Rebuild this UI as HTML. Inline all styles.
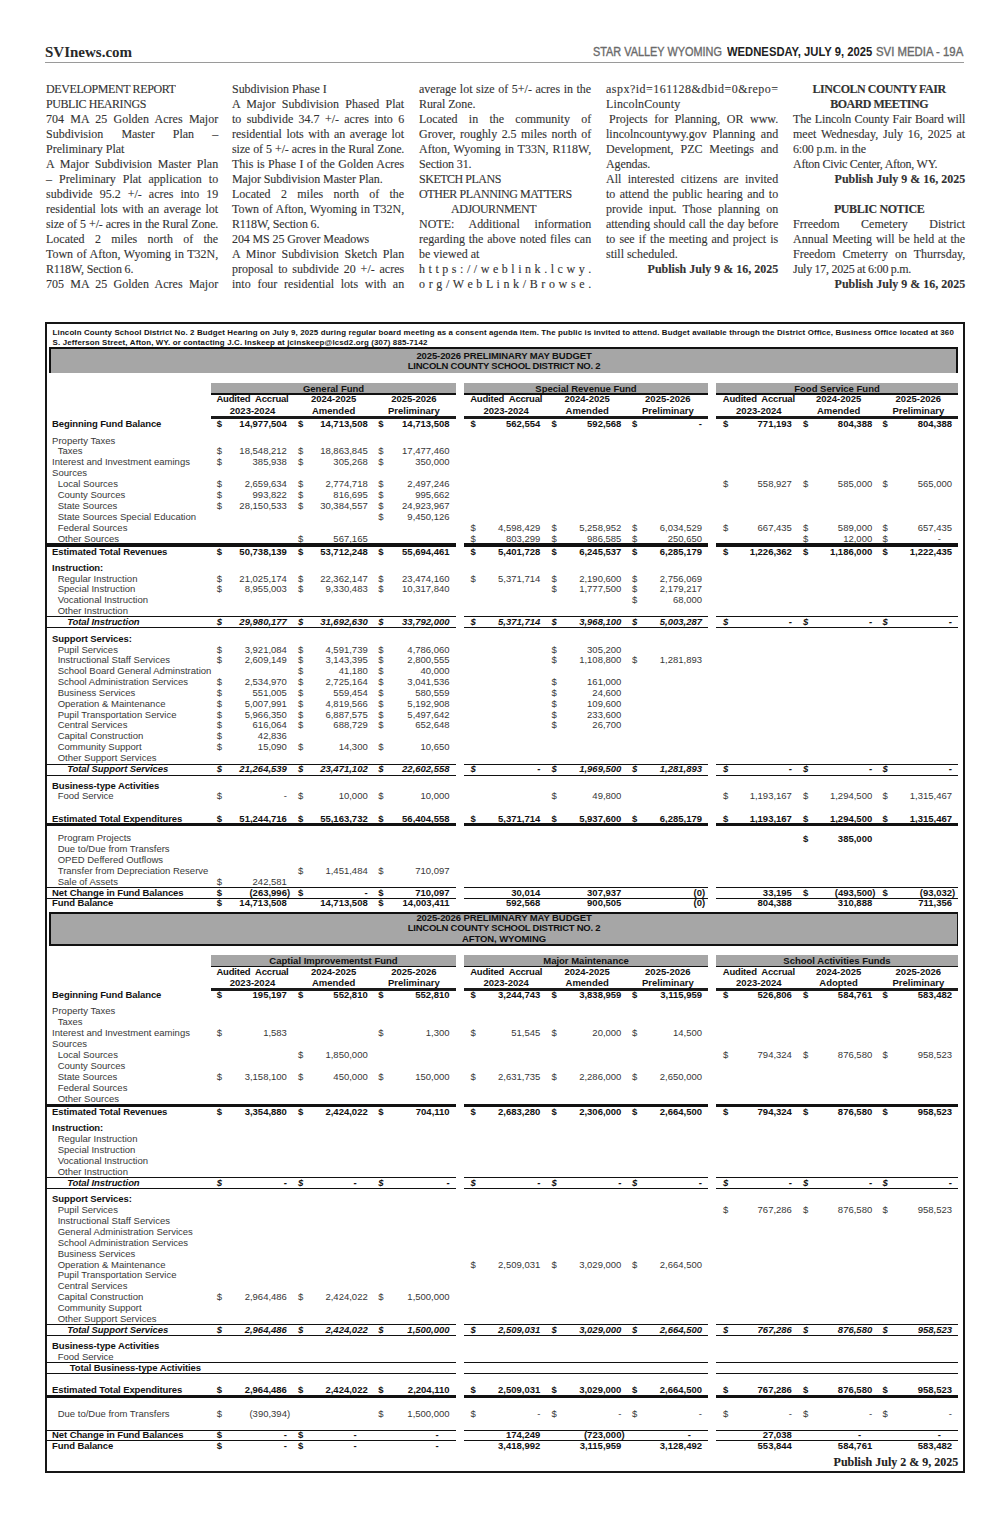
<!DOCTYPE html><html><head><meta charset="utf-8"><style>
*{margin:0;padding:0;box-sizing:border-box}
html,body{width:994px;height:1536px;background:#fff;overflow:hidden;position:relative}
.t{position:absolute;font-family:"Liberation Sans",sans-serif;font-size:9.5px;line-height:10px;white-space:pre;color:#383838}
.t.r{text-align:right}
.t.c{text-align:center}
.bd{font-weight:bold;color:#111}
.lbl.bd,.lbl.bi{letter-spacing:-0.1px}
.bi{font-weight:bold;font-style:italic;color:#111}
.b{position:absolute}
.bt{position:absolute;font-family:"Liberation Serif",serif;font-size:13.2px;line-height:15px;white-space:pre;color:#333;-webkit-text-stroke:0.12px #333;width:189.42px;height:15px;transform:scaleX(0.90909);transform-origin:0 0}
.bj{text-align:justify;text-align-last:justify;white-space:normal}
.bl{text-align:left}
.bc{text-align:center;font-weight:bold}
.br{text-align:right;font-weight:bold}
.bi2{padding-left:35.2px}
.bp{padding-left:3.3px}
.hdr{position:absolute;font-family:"Liberation Sans",sans-serif;font-size:12px;line-height:14px;white-space:pre}

</style></head><body>
<div class="hdr" style="left:45px;top:45px;font-family:'Liberation Serif',serif;font-weight:bold;font-size:15px;color:#2a2a2a">SVInews.com</div>
<div class="hdr" style="left:592.5px;top:45.3px;color:#6a6a6a;-webkit-text-stroke:0.35px #6a6a6a;transform:scaleX(0.9075);transform-origin:0 0">STAR VALLEY WYOMING</div>
<div class="hdr" style="left:726.7px;top:45.3px;color:#1e1e1e;font-weight:bold;transform:scaleX(0.9376);transform-origin:0 0">WEDNESDAY, JULY 9, 2025</div>
<div class="hdr" style="left:875.8px;top:45.3px;color:#6a6a6a;-webkit-text-stroke:0.35px #6a6a6a;transform:scaleX(0.9485);transform-origin:0 0">SVI MEDIA - 19A</div>
<div class="b" style="left:45.0px;top:61.80px;width:919.0px;height:1.00px;background:#9a9a9a"></div>
<div class="bt bl" style="left:45.5px;top:80.55px;letter-spacing:-0.435px">DEVELOPMENT REPORT</div>
<div class="bt bl" style="left:45.5px;top:95.55px;letter-spacing:-0.465px">PUBLIC HEARINGS</div>
<div class="bt bj" style="left:45.5px;top:110.55px">704 MA 25 Golden Acres Major</div>
<div class="bt bj" style="left:45.5px;top:125.55px">Subdivision Master Plan –</div>
<div class="bt bl" style="left:45.5px;top:140.54px;letter-spacing:0.012px">Preliminary Plat</div>
<div class="bt bj" style="left:45.5px;top:155.54px">A Major Subdivision Master Plan</div>
<div class="bt bj" style="left:45.5px;top:170.54px">– Preliminary Plat application to</div>
<div class="bt bj" style="left:45.5px;top:185.54px">subdivide 95.2 +/- acres into 19</div>
<div class="bt bj" style="left:45.5px;top:200.54px">residential lots with an average lot</div>
<div class="bt bj" style="left:45.5px;top:215.54px;letter-spacing:-0.180px">size of 5 +/- acres in the Rural Zone.</div>
<div class="bt bj" style="left:45.5px;top:230.54px">Located 2 miles north of the</div>
<div class="bt bj" style="left:45.5px;top:245.54px;letter-spacing:-0.007px">Town of Afton, Wyoming in T32N,</div>
<div class="bt bl" style="left:45.5px;top:260.55px;letter-spacing:-0.154px">R118W, Section 6.</div>
<div class="bt bj" style="left:45.5px;top:275.55px">705 MA 25 Golden Acres Major</div>
<div class="bt bl" style="left:232.2px;top:80.55px;letter-spacing:-0.025px">Subdivision Phase I</div>
<div class="bt bj" style="left:232.2px;top:95.55px">A Major Subdivision Phased Plat</div>
<div class="bt bj" style="left:232.2px;top:110.55px">to subdivide 34.7 +/- acres into 6</div>
<div class="bt bj" style="left:232.2px;top:125.55px">residential lots with an average lot</div>
<div class="bt bj" style="left:232.2px;top:140.54px;letter-spacing:-0.180px">size of 5 +/- acres in the Rural Zone.</div>
<div class="bt bj" style="left:232.2px;top:155.54px;letter-spacing:-0.005px">This is Phase I of the Golden Acres</div>
<div class="bt bl" style="left:232.2px;top:170.54px;letter-spacing:-0.093px">Major Subdivision Master Plan.</div>
<div class="bt bj" style="left:232.2px;top:185.54px">Located 2 miles north of the</div>
<div class="bt bj" style="left:232.2px;top:200.54px;letter-spacing:-0.007px">Town of Afton, Wyoming in T32N,</div>
<div class="bt bl" style="left:232.2px;top:215.54px;letter-spacing:-0.154px">R118W, Section 6.</div>
<div class="bt bl" style="left:232.2px;top:230.54px;letter-spacing:-0.123px">204 MS 25 Grover Meadows</div>
<div class="bt bj" style="left:232.2px;top:245.54px">A Minor Subdivision Sketch Plan</div>
<div class="bt bj" style="left:232.2px;top:260.55px">proposal to subdivide 20 +/- acres</div>
<div class="bt bj" style="left:232.2px;top:275.55px">into four residential lots with an</div>
<div class="bt bj" style="left:419.0px;top:80.55px">average lot size of 5+/- acres in the</div>
<div class="bt bl" style="left:419.0px;top:95.55px;letter-spacing:-0.092px">Rural Zone.</div>
<div class="bt bj" style="left:419.0px;top:110.55px">Located in the community of</div>
<div class="bt bj" style="left:419.0px;top:125.55px">Grover, roughly 2.5 miles north of</div>
<div class="bt bj" style="left:419.0px;top:140.54px">Afton, Wyoming in T33N, R118W,</div>
<div class="bt bl" style="left:419.0px;top:155.54px;letter-spacing:-0.159px">Section 31.</div>
<div class="bt bl" style="left:419.0px;top:170.54px;letter-spacing:-0.520px">SKETCH PLANS</div>
<div class="bt bl" style="left:419.0px;top:185.54px;letter-spacing:-0.450px">OTHER PLANNING MATTERS</div>
<div class="bt bi2" style="left:419.0px;top:200.54px;letter-spacing:-0.480px">ADJOURNMENT</div>
<div class="bt bj" style="left:419.0px;top:215.54px">NOTE:   Additional information</div>
<div class="bt bj" style="left:419.0px;top:230.54px">regarding the above noted files can</div>
<div class="bt bl" style="left:419.0px;top:245.54px;letter-spacing:-0.022px">be viewed at</div>
<div class="bt bj" style="left:419.0px;top:260.55px">h t t p s : / / w e b l i n k . l c w y .</div>
<div class="bt bj" style="left:419.0px;top:275.55px">o r g / W e b L i n k / B r o w s e .</div>
<div class="bt bl" style="left:605.8px;top:80.55px;letter-spacing:0.523px">aspx?id=161128&amp;dbid=0&amp;repo=</div>
<div class="bt bl" style="left:605.8px;top:95.55px;letter-spacing:0.147px">LincolnCounty</div>
<div class="bt bj bp" style="left:605.8px;top:110.55px">Projects for Planning, OR www.</div>
<div class="bt bj" style="left:605.8px;top:125.55px">lincolncountywy.gov Planning and</div>
<div class="bt bj" style="left:605.8px;top:140.54px">Development, PZC Meetings and</div>
<div class="bt bl" style="left:605.8px;top:155.54px;letter-spacing:-0.095px">Agendas.</div>
<div class="bt bj" style="left:605.8px;top:170.54px">All interested citizens are invited</div>
<div class="bt bj" style="left:605.8px;top:185.54px">to attend the public hearing and to</div>
<div class="bt bj" style="left:605.8px;top:200.54px">provide input.  Those planning on</div>
<div class="bt bj" style="left:605.8px;top:215.54px;letter-spacing:-0.065px">attending should call the day before</div>
<div class="bt bj" style="left:605.8px;top:230.54px">to see if the meeting and project is</div>
<div class="bt bl" style="left:605.8px;top:245.54px;letter-spacing:-0.006px">still scheduled.</div>
<div class="bt br" style="left:605.8px;top:260.55px">Publish July 9 &amp; 16, 2025</div>
<div class="bt bc" style="left:792.8px;top:80.55px;letter-spacing:-0.504px">LINCOLN COUNTY FAIR</div>
<div class="bt bc" style="left:792.8px;top:95.55px;letter-spacing:-0.537px">BOARD MEETING</div>
<div class="bt bj" style="left:792.8px;top:110.55px;letter-spacing:-0.135px">The Lincoln County Fair Board will</div>
<div class="bt bj" style="left:792.8px;top:125.55px">meet Wednesday, July 16, 2025 at</div>
<div class="bt bl" style="left:792.8px;top:140.54px;letter-spacing:-0.190px">6:00 p.m. in the</div>
<div class="bt bl" style="left:792.8px;top:155.54px;letter-spacing:-0.281px">Afton Civic Center, Afton, WY.</div>
<div class="bt br" style="left:792.8px;top:170.54px">Publish July 9 &amp; 16, 2025</div>
<div class="bt bc" style="left:792.8px;top:200.54px;letter-spacing:-0.439px">PUBLIC NOTICE</div>
<div class="bt bj" style="left:792.8px;top:215.54px">Frreedom Cemetery District</div>
<div class="bt bj" style="left:792.8px;top:230.54px">Annual Meeting will be held at the</div>
<div class="bt bj" style="left:792.8px;top:245.54px">Freedom Cmeterry on Thurrsday,</div>
<div class="bt bl" style="left:792.8px;top:260.55px;letter-spacing:-0.302px">July 17, 2025 at 6:00 p.m.</div>
<div class="bt br" style="left:792.8px;top:275.55px">Publish July 9 &amp; 16, 2025</div>
<div class="b" style="left:45.0px;top:322.00px;width:920.0px;height:2.00px;background:#161616"></div>
<div class="b" style="left:45.0px;top:322.00px;width:2.0px;height:1151.00px;background:#161616"></div>
<div class="b" style="left:963.0px;top:322.00px;width:2.0px;height:1151.00px;background:#161616"></div>
<div class="b" style="left:45.0px;top:1471.00px;width:920.0px;height:2.00px;background:#161616"></div>
<div class="t bd" style="left:52.6px;top:328.3px;font-size:7.9px;line-height:10px;letter-spacing:0.145px">Lincoln County School District No. 2 Budget Hearing on July 9, 2025 during regular board meeting as a consent agenda item. The public is invited to attend. Budget available through the District Office, Business Office located at 360</div>
<div class="t bd" style="left:52.6px;top:338.3px;font-size:7.9px;line-height:10px;letter-spacing:0.16px">S. Jefferson Street, Afton, WY. or contacting J.C. Inskeep at jcinskeep@lcsd2.org (307) 885-7142</div>
<div class="b" style="left:49.0px;top:347.00px;width:909.0px;height:26.00px;background:#a6a6a6"></div>
<div class="b" style="left:49.0px;top:347.00px;width:909.0px;height:2.00px;background:#111"></div>
<div class="b" style="left:49.0px;top:347.00px;width:2.0px;height:26.00px;background:#111"></div>
<div class="b" style="left:956.0px;top:347.00px;width:2.0px;height:26.00px;background:#111"></div>
<div class="t c bd" style="left:404.0px;width:200px;top:350.91px;letter-spacing:-0.1px">2025-2026 PRELIMINARY MAY BUDGET</div>
<div class="t c bd" style="left:404.0px;width:200px;top:361.31px;letter-spacing:-0.26px">LINCOLN COUNTY SCHOOL DISTRICT NO. 2</div>
<div class="b" style="left:211.0px;top:383.00px;width:245.0px;height:10.00px;background:#a6a6a6"></div>
<div class="b" style="left:211.0px;top:393.00px;width:245.0px;height:2.00px;background:#111"></div>
<div class="t c bd" style="left:233.5px;width:200px;top:383.51px;">General Fund</div>
<div class="b" style="left:211.0px;top:416.00px;width:245.0px;height:3.00px;background:#1a1a1a"></div>
<div class="b" style="left:464.0px;top:383.00px;width:244.0px;height:10.00px;background:#a6a6a6"></div>
<div class="b" style="left:464.0px;top:393.00px;width:244.0px;height:2.00px;background:#111"></div>
<div class="t c bd" style="left:486.0px;width:200px;top:383.51px;">Special Revenue Fund</div>
<div class="b" style="left:464.0px;top:416.00px;width:244.0px;height:3.00px;background:#1a1a1a"></div>
<div class="b" style="left:716.0px;top:383.00px;width:242.0px;height:10.00px;background:#a6a6a6"></div>
<div class="b" style="left:716.0px;top:393.00px;width:242.0px;height:2.00px;background:#111"></div>
<div class="t c bd" style="left:737.0px;width:200px;top:383.51px;">Food Service Fund</div>
<div class="b" style="left:716.0px;top:416.00px;width:242.0px;height:3.00px;background:#1a1a1a"></div>
<div class="t c bd" style="left:152.5px;width:200px;top:394.31px;letter-spacing:-0.19px">Audited  Accrual</div>
<div class="t c bd" style="left:152.5px;width:200px;top:406.01px;">2023-2024</div>
<div class="t c bd" style="left:233.6px;width:200px;top:394.31px;">2024-2025</div>
<div class="t c bd" style="left:233.6px;width:200px;top:406.01px;">Amended</div>
<div class="t c bd" style="left:313.9px;width:200px;top:394.31px;">2025-2026</div>
<div class="t c bd" style="left:313.9px;width:200px;top:406.01px;">Preliminary</div>
<div class="t c bd" style="left:406.2px;width:200px;top:394.31px;letter-spacing:-0.19px">Audited  Accrual</div>
<div class="t c bd" style="left:406.2px;width:200px;top:406.01px;">2023-2024</div>
<div class="t c bd" style="left:487.2px;width:200px;top:394.31px;">2024-2025</div>
<div class="t c bd" style="left:487.2px;width:200px;top:406.01px;">Amended</div>
<div class="t c bd" style="left:567.8px;width:200px;top:394.31px;">2025-2026</div>
<div class="t c bd" style="left:567.8px;width:200px;top:406.01px;">Preliminary</div>
<div class="t c bd" style="left:658.8px;width:200px;top:394.31px;letter-spacing:-0.19px">Audited  Accrual</div>
<div class="t c bd" style="left:658.8px;width:200px;top:406.01px;">2023-2024</div>
<div class="t c bd" style="left:738.6px;width:200px;top:394.31px;">2024-2025</div>
<div class="t c bd" style="left:738.6px;width:200px;top:406.01px;">Amended</div>
<div class="t c bd" style="left:818.3px;width:200px;top:394.31px;">2025-2026</div>
<div class="t c bd" style="left:818.3px;width:200px;top:406.01px;">Preliminary</div>
<div class="t bd lbl" style="left:52.1px;top:419.21px;">Beginning Fund Balance</div>
<div class="t bd" style="left:216.8px;top:419.21px;">$</div>
<div class="t r bd" style="right:707.1px;top:419.21px;">14,977,504</div>
<div class="t bd" style="left:297.9px;top:419.21px;">$</div>
<div class="t r bd" style="right:626.3px;top:419.21px;">14,713,508</div>
<div class="t bd" style="left:378.2px;top:419.21px;">$</div>
<div class="t r bd" style="right:544.4px;top:419.21px;">14,713,508</div>
<div class="t bd" style="left:470.5px;top:419.21px;">$</div>
<div class="t r bd" style="right:453.7px;top:419.21px;">562,554</div>
<div class="t bd" style="left:551.5px;top:419.21px;">$</div>
<div class="t r bd" style="right:372.6px;top:419.21px;">592,568</div>
<div class="t bd" style="left:632.1px;top:419.21px;">$</div>
<div class="t r bd" style="right:292.0px;top:419.21px;">-</div>
<div class="t bd" style="left:723.1px;top:419.21px;">$</div>
<div class="t r bd" style="right:202.1px;top:419.21px;">771,193</div>
<div class="t bd" style="left:802.9px;top:419.21px;">$</div>
<div class="t r bd" style="right:121.8px;top:419.21px;">804,388</div>
<div class="t bd" style="left:882.6px;top:419.21px;">$</div>
<div class="t r bd" style="right:42.0px;top:419.21px;">804,388</div>
<div class="t  lbl" style="left:52.1px;top:435.51px;">Property Taxes</div>
<div class="t  lbl" style="left:57.7px;top:446.41px;">Taxes</div>
<div class="t " style="left:216.8px;top:446.41px;">$</div>
<div class="t r " style="right:707.1px;top:446.41px;">18,548,212</div>
<div class="t " style="left:297.9px;top:446.41px;">$</div>
<div class="t r " style="right:626.3px;top:446.41px;">18,863,845</div>
<div class="t " style="left:378.2px;top:446.41px;">$</div>
<div class="t r " style="right:544.4px;top:446.41px;">17,477,460</div>
<div class="t  lbl" style="left:52.1px;top:457.21px;">Interest and Investment eamings</div>
<div class="t " style="left:216.8px;top:457.21px;">$</div>
<div class="t r " style="right:707.1px;top:457.21px;">385,938</div>
<div class="t " style="left:297.9px;top:457.21px;">$</div>
<div class="t r " style="right:626.3px;top:457.21px;">305,268</div>
<div class="t " style="left:378.2px;top:457.21px;">$</div>
<div class="t r " style="right:544.4px;top:457.21px;">350,000</div>
<div class="t  lbl" style="left:52.1px;top:468.21px;">Sources</div>
<div class="t  lbl" style="left:57.7px;top:479.11px;">Local Sources</div>
<div class="t " style="left:216.8px;top:479.11px;">$</div>
<div class="t r " style="right:707.1px;top:479.11px;">2,659,634</div>
<div class="t " style="left:297.9px;top:479.11px;">$</div>
<div class="t r " style="right:626.3px;top:479.11px;">2,774,718</div>
<div class="t " style="left:378.2px;top:479.11px;">$</div>
<div class="t r " style="right:544.4px;top:479.11px;">2,497,246</div>
<div class="t " style="left:723.1px;top:479.11px;">$</div>
<div class="t r " style="right:202.1px;top:479.11px;">558,927</div>
<div class="t " style="left:802.9px;top:479.11px;">$</div>
<div class="t r " style="right:121.8px;top:479.11px;">585,000</div>
<div class="t " style="left:882.6px;top:479.11px;">$</div>
<div class="t r " style="right:42.0px;top:479.11px;">565,000</div>
<div class="t  lbl" style="left:57.7px;top:490.01px;">County Sources</div>
<div class="t " style="left:216.8px;top:490.01px;">$</div>
<div class="t r " style="right:707.1px;top:490.01px;">993,822</div>
<div class="t " style="left:297.9px;top:490.01px;">$</div>
<div class="t r " style="right:626.3px;top:490.01px;">816,695</div>
<div class="t " style="left:378.2px;top:490.01px;">$</div>
<div class="t r " style="right:544.4px;top:490.01px;">995,662</div>
<div class="t  lbl" style="left:57.7px;top:500.91px;">State Sources</div>
<div class="t " style="left:216.8px;top:500.91px;">$</div>
<div class="t r " style="right:707.1px;top:500.91px;">28,150,533</div>
<div class="t " style="left:297.9px;top:500.91px;">$</div>
<div class="t r " style="right:626.3px;top:500.91px;">30,384,557</div>
<div class="t " style="left:378.2px;top:500.91px;">$</div>
<div class="t r " style="right:544.4px;top:500.91px;">24,923,967</div>
<div class="t  lbl" style="left:57.7px;top:511.81px;">State Sources Special Education</div>
<div class="t " style="left:378.2px;top:511.81px;">$</div>
<div class="t r " style="right:544.4px;top:511.81px;">9,450,126</div>
<div class="t  lbl" style="left:57.7px;top:522.71px;">Federal Sources</div>
<div class="t " style="left:470.5px;top:522.71px;">$</div>
<div class="t r " style="right:453.7px;top:522.71px;">4,598,429</div>
<div class="t " style="left:551.5px;top:522.71px;">$</div>
<div class="t r " style="right:372.6px;top:522.71px;">5,258,952</div>
<div class="t " style="left:632.1px;top:522.71px;">$</div>
<div class="t r " style="right:292.0px;top:522.71px;">6,034,529</div>
<div class="t " style="left:723.1px;top:522.71px;">$</div>
<div class="t r " style="right:202.1px;top:522.71px;">667,435</div>
<div class="t " style="left:802.9px;top:522.71px;">$</div>
<div class="t r " style="right:121.8px;top:522.71px;">589,000</div>
<div class="t " style="left:882.6px;top:522.71px;">$</div>
<div class="t r " style="right:42.0px;top:522.71px;">657,435</div>
<div class="t  lbl" style="left:57.7px;top:533.51px;">Other Sources</div>
<div class="t " style="left:297.9px;top:533.51px;">$</div>
<div class="t r " style="right:626.3px;top:533.51px;">567,165</div>
<div class="t " style="left:470.5px;top:533.51px;">$</div>
<div class="t r " style="right:453.7px;top:533.51px;">803,299</div>
<div class="t " style="left:551.5px;top:533.51px;">$</div>
<div class="t r " style="right:372.6px;top:533.51px;">986,585</div>
<div class="t " style="left:632.1px;top:533.51px;">$</div>
<div class="t r " style="right:292.0px;top:533.51px;">250,650</div>
<div class="t " style="left:802.9px;top:533.51px;">$</div>
<div class="t r " style="right:121.8px;top:533.51px;">12,000</div>
<div class="t " style="left:882.6px;top:533.51px;">$</div>
<div class="t r " style="right:53.0px;top:533.51px;">-</div>
<div class="t bd lbl" style="left:52.1px;top:546.61px;">Estimated Total Revenues</div>
<div class="t bd" style="left:216.8px;top:546.61px;">$</div>
<div class="t r bd" style="right:707.1px;top:546.61px;">50,738,139</div>
<div class="t bd" style="left:297.9px;top:546.61px;">$</div>
<div class="t r bd" style="right:626.3px;top:546.61px;">53,712,248</div>
<div class="t bd" style="left:378.2px;top:546.61px;">$</div>
<div class="t r bd" style="right:544.4px;top:546.61px;">55,694,461</div>
<div class="t bd" style="left:470.5px;top:546.61px;">$</div>
<div class="t r bd" style="right:453.7px;top:546.61px;">5,401,728</div>
<div class="t bd" style="left:551.5px;top:546.61px;">$</div>
<div class="t r bd" style="right:372.6px;top:546.61px;">6,245,537</div>
<div class="t bd" style="left:632.1px;top:546.61px;">$</div>
<div class="t r bd" style="right:292.0px;top:546.61px;">6,285,179</div>
<div class="t bd" style="left:723.1px;top:546.61px;">$</div>
<div class="t r bd" style="right:202.1px;top:546.61px;">1,226,362</div>
<div class="t bd" style="left:802.9px;top:546.61px;">$</div>
<div class="t r bd" style="right:121.8px;top:546.61px;">1,186,000</div>
<div class="t bd" style="left:882.6px;top:546.61px;">$</div>
<div class="t r bd" style="right:42.0px;top:546.61px;">1,222,435</div>
<div class="t bd lbl" style="left:52.1px;top:562.81px;">Instruction:</div>
<div class="t  lbl" style="left:57.7px;top:573.61px;">Regular Instruction</div>
<div class="t " style="left:216.8px;top:573.61px;">$</div>
<div class="t r " style="right:707.1px;top:573.61px;">21,025,174</div>
<div class="t " style="left:297.9px;top:573.61px;">$</div>
<div class="t r " style="right:626.3px;top:573.61px;">22,362,147</div>
<div class="t " style="left:378.2px;top:573.61px;">$</div>
<div class="t r " style="right:544.4px;top:573.61px;">23,474,160</div>
<div class="t " style="left:470.5px;top:573.61px;">$</div>
<div class="t r " style="right:453.7px;top:573.61px;">5,371,714</div>
<div class="t " style="left:551.5px;top:573.61px;">$</div>
<div class="t r " style="right:372.6px;top:573.61px;">2,190,600</div>
<div class="t " style="left:632.1px;top:573.61px;">$</div>
<div class="t r " style="right:292.0px;top:573.61px;">2,756,069</div>
<div class="t  lbl" style="left:57.7px;top:584.41px;">Special Instruction</div>
<div class="t " style="left:216.8px;top:584.41px;">$</div>
<div class="t r " style="right:707.1px;top:584.41px;">8,955,003</div>
<div class="t " style="left:297.9px;top:584.41px;">$</div>
<div class="t r " style="right:626.3px;top:584.41px;">9,330,483</div>
<div class="t " style="left:378.2px;top:584.41px;">$</div>
<div class="t r " style="right:544.4px;top:584.41px;">10,317,840</div>
<div class="t " style="left:551.5px;top:584.41px;">$</div>
<div class="t r " style="right:372.6px;top:584.41px;">1,777,500</div>
<div class="t " style="left:632.1px;top:584.41px;">$</div>
<div class="t r " style="right:292.0px;top:584.41px;">2,179,217</div>
<div class="t  lbl" style="left:57.7px;top:595.31px;">Vocational Instruction</div>
<div class="t " style="left:632.1px;top:595.31px;">$</div>
<div class="t r " style="right:292.0px;top:595.31px;">68,000</div>
<div class="t  lbl" style="left:57.7px;top:606.11px;">Other Instruction</div>
<div class="t bi lbl" style="left:67.2px;top:616.91px;">Total Instruction</div>
<div class="t bi" style="left:216.8px;top:616.91px;">$</div>
<div class="t r bi" style="right:707.1px;top:616.91px;">29,980,177</div>
<div class="t bi" style="left:297.9px;top:616.91px;">$</div>
<div class="t r bi" style="right:626.3px;top:616.91px;">31,692,630</div>
<div class="t bi" style="left:378.2px;top:616.91px;">$</div>
<div class="t r bi" style="right:544.4px;top:616.91px;">33,792,000</div>
<div class="t bi" style="left:470.5px;top:616.91px;">$</div>
<div class="t r bi" style="right:453.7px;top:616.91px;">5,371,714</div>
<div class="t bi" style="left:551.5px;top:616.91px;">$</div>
<div class="t r bi" style="right:372.6px;top:616.91px;">3,968,100</div>
<div class="t bi" style="left:632.1px;top:616.91px;">$</div>
<div class="t r bi" style="right:292.0px;top:616.91px;">5,003,287</div>
<div class="t bi" style="left:723.1px;top:616.91px;">$</div>
<div class="t r bi" style="right:202.1px;top:616.91px;">-</div>
<div class="t bi" style="left:802.9px;top:616.91px;">$</div>
<div class="t r bi" style="right:121.8px;top:616.91px;">-</div>
<div class="t bi" style="left:882.6px;top:616.91px;">$</div>
<div class="t r bi" style="right:42.0px;top:616.91px;">-</div>
<div class="t bd lbl" style="left:52.1px;top:633.61px;">Support Services:</div>
<div class="t  lbl" style="left:57.7px;top:644.51px;">Pupil Services</div>
<div class="t " style="left:216.8px;top:644.51px;">$</div>
<div class="t r " style="right:707.1px;top:644.51px;">3,921,084</div>
<div class="t " style="left:297.9px;top:644.51px;">$</div>
<div class="t r " style="right:626.3px;top:644.51px;">4,591,739</div>
<div class="t " style="left:378.2px;top:644.51px;">$</div>
<div class="t r " style="right:544.4px;top:644.51px;">4,786,060</div>
<div class="t " style="left:551.5px;top:644.51px;">$</div>
<div class="t r " style="right:372.6px;top:644.51px;">305,200</div>
<div class="t  lbl" style="left:57.7px;top:655.31px;">Instructional Staff Services</div>
<div class="t " style="left:216.8px;top:655.31px;">$</div>
<div class="t r " style="right:707.1px;top:655.31px;">2,609,149</div>
<div class="t " style="left:297.9px;top:655.31px;">$</div>
<div class="t r " style="right:626.3px;top:655.31px;">3,143,395</div>
<div class="t " style="left:378.2px;top:655.31px;">$</div>
<div class="t r " style="right:544.4px;top:655.31px;">2,800,555</div>
<div class="t " style="left:551.5px;top:655.31px;">$</div>
<div class="t r " style="right:372.6px;top:655.31px;">1,108,800</div>
<div class="t " style="left:632.1px;top:655.31px;">$</div>
<div class="t r " style="right:292.0px;top:655.31px;">1,281,893</div>
<div class="t  lbl" style="left:57.7px;top:666.21px;">School Board General Adminstration</div>
<div class="t " style="left:297.9px;top:666.21px;">$</div>
<div class="t r " style="right:626.3px;top:666.21px;">41,180</div>
<div class="t " style="left:378.2px;top:666.21px;">$</div>
<div class="t r " style="right:544.4px;top:666.21px;">40,000</div>
<div class="t  lbl" style="left:57.7px;top:677.01px;">School Administration Services</div>
<div class="t " style="left:216.8px;top:677.01px;">$</div>
<div class="t r " style="right:707.1px;top:677.01px;">2,534,970</div>
<div class="t " style="left:297.9px;top:677.01px;">$</div>
<div class="t r " style="right:626.3px;top:677.01px;">2,725,164</div>
<div class="t " style="left:378.2px;top:677.01px;">$</div>
<div class="t r " style="right:544.4px;top:677.01px;">3,041,536</div>
<div class="t " style="left:551.5px;top:677.01px;">$</div>
<div class="t r " style="right:372.6px;top:677.01px;">161,000</div>
<div class="t  lbl" style="left:57.7px;top:687.81px;">Business Services</div>
<div class="t " style="left:216.8px;top:687.81px;">$</div>
<div class="t r " style="right:707.1px;top:687.81px;">551,005</div>
<div class="t " style="left:297.9px;top:687.81px;">$</div>
<div class="t r " style="right:626.3px;top:687.81px;">559,454</div>
<div class="t " style="left:378.2px;top:687.81px;">$</div>
<div class="t r " style="right:544.4px;top:687.81px;">580,559</div>
<div class="t " style="left:551.5px;top:687.81px;">$</div>
<div class="t r " style="right:372.6px;top:687.81px;">24,600</div>
<div class="t  lbl" style="left:57.7px;top:698.61px;">Operation &amp; Maintenance</div>
<div class="t " style="left:216.8px;top:698.61px;">$</div>
<div class="t r " style="right:707.1px;top:698.61px;">5,007,991</div>
<div class="t " style="left:297.9px;top:698.61px;">$</div>
<div class="t r " style="right:626.3px;top:698.61px;">4,819,566</div>
<div class="t " style="left:378.2px;top:698.61px;">$</div>
<div class="t r " style="right:544.4px;top:698.61px;">5,192,908</div>
<div class="t " style="left:551.5px;top:698.61px;">$</div>
<div class="t r " style="right:372.6px;top:698.61px;">109,600</div>
<div class="t  lbl" style="left:57.7px;top:709.51px;">Pupil Transportation Service</div>
<div class="t " style="left:216.8px;top:709.51px;">$</div>
<div class="t r " style="right:707.1px;top:709.51px;">5,966,350</div>
<div class="t " style="left:297.9px;top:709.51px;">$</div>
<div class="t r " style="right:626.3px;top:709.51px;">6,887,575</div>
<div class="t " style="left:378.2px;top:709.51px;">$</div>
<div class="t r " style="right:544.4px;top:709.51px;">5,497,642</div>
<div class="t " style="left:551.5px;top:709.51px;">$</div>
<div class="t r " style="right:372.6px;top:709.51px;">233,600</div>
<div class="t  lbl" style="left:57.7px;top:720.31px;">Central Services</div>
<div class="t " style="left:216.8px;top:720.31px;">$</div>
<div class="t r " style="right:707.1px;top:720.31px;">616,064</div>
<div class="t " style="left:297.9px;top:720.31px;">$</div>
<div class="t r " style="right:626.3px;top:720.31px;">688,729</div>
<div class="t " style="left:378.2px;top:720.31px;">$</div>
<div class="t r " style="right:544.4px;top:720.31px;">652,648</div>
<div class="t " style="left:551.5px;top:720.31px;">$</div>
<div class="t r " style="right:372.6px;top:720.31px;">26,700</div>
<div class="t  lbl" style="left:57.7px;top:731.31px;">Capital Construction</div>
<div class="t " style="left:216.8px;top:731.31px;">$</div>
<div class="t r " style="right:707.1px;top:731.31px;">42,836</div>
<div class="t  lbl" style="left:57.7px;top:742.21px;">Community Support</div>
<div class="t " style="left:216.8px;top:742.21px;">$</div>
<div class="t r " style="right:707.1px;top:742.21px;">15,090</div>
<div class="t " style="left:297.9px;top:742.21px;">$</div>
<div class="t r " style="right:626.3px;top:742.21px;">14,300</div>
<div class="t " style="left:378.2px;top:742.21px;">$</div>
<div class="t r " style="right:544.4px;top:742.21px;">10,650</div>
<div class="t  lbl" style="left:57.7px;top:753.11px;">Other Support Services</div>
<div class="t bi lbl" style="left:67.2px;top:764.21px;">Total Support Services</div>
<div class="t bi" style="left:216.8px;top:764.21px;">$</div>
<div class="t r bi" style="right:707.1px;top:764.21px;">21,264,539</div>
<div class="t bi" style="left:297.9px;top:764.21px;">$</div>
<div class="t r bi" style="right:626.3px;top:764.21px;">23,471,102</div>
<div class="t bi" style="left:378.2px;top:764.21px;">$</div>
<div class="t r bi" style="right:544.4px;top:764.21px;">22,602,558</div>
<div class="t bi" style="left:470.5px;top:764.21px;">$</div>
<div class="t r bi" style="right:453.7px;top:764.21px;">-</div>
<div class="t bi" style="left:551.5px;top:764.21px;">$</div>
<div class="t r bi" style="right:372.6px;top:764.21px;">1,969,500</div>
<div class="t bi" style="left:632.1px;top:764.21px;">$</div>
<div class="t r bi" style="right:292.0px;top:764.21px;">1,281,893</div>
<div class="t bi" style="left:723.1px;top:764.21px;">$</div>
<div class="t r bi" style="right:202.1px;top:764.21px;">-</div>
<div class="t bi" style="left:802.9px;top:764.21px;">$</div>
<div class="t r bi" style="right:121.8px;top:764.21px;">-</div>
<div class="t bi" style="left:882.6px;top:764.21px;">$</div>
<div class="t r bi" style="right:42.0px;top:764.21px;">-</div>
<div class="t bd lbl" style="left:52.1px;top:780.71px;">Business-type Activities</div>
<div class="t  lbl" style="left:57.7px;top:791.41px;">Food Service</div>
<div class="t " style="left:216.8px;top:791.41px;">$</div>
<div class="t r " style="right:707.1px;top:791.41px;">-</div>
<div class="t " style="left:297.9px;top:791.41px;">$</div>
<div class="t r " style="right:626.3px;top:791.41px;">10,000</div>
<div class="t " style="left:378.2px;top:791.41px;">$</div>
<div class="t r " style="right:544.4px;top:791.41px;">10,000</div>
<div class="t " style="left:551.5px;top:791.41px;">$</div>
<div class="t r " style="right:372.6px;top:791.41px;">49,800</div>
<div class="t " style="left:723.1px;top:791.41px;">$</div>
<div class="t r " style="right:202.1px;top:791.41px;">1,193,167</div>
<div class="t " style="left:802.9px;top:791.41px;">$</div>
<div class="t r " style="right:121.8px;top:791.41px;">1,294,500</div>
<div class="t " style="left:882.6px;top:791.41px;">$</div>
<div class="t r " style="right:42.0px;top:791.41px;">1,315,467</div>
<div class="t bd lbl" style="left:52.1px;top:813.51px;">Estimated Total Expenditures</div>
<div class="t bd" style="left:216.8px;top:813.51px;">$</div>
<div class="t r bd" style="right:707.1px;top:813.51px;">51,244,716</div>
<div class="t bd" style="left:297.9px;top:813.51px;">$</div>
<div class="t r bd" style="right:626.3px;top:813.51px;">55,163,732</div>
<div class="t bd" style="left:378.2px;top:813.51px;">$</div>
<div class="t r bd" style="right:544.4px;top:813.51px;">56,404,558</div>
<div class="t bd" style="left:470.5px;top:813.51px;">$</div>
<div class="t r bd" style="right:453.7px;top:813.51px;">5,371,714</div>
<div class="t bd" style="left:551.5px;top:813.51px;">$</div>
<div class="t r bd" style="right:372.6px;top:813.51px;">5,937,600</div>
<div class="t bd" style="left:632.1px;top:813.51px;">$</div>
<div class="t r bd" style="right:292.0px;top:813.51px;">6,285,179</div>
<div class="t bd" style="left:723.1px;top:813.51px;">$</div>
<div class="t r bd" style="right:202.1px;top:813.51px;">1,193,167</div>
<div class="t bd" style="left:802.9px;top:813.51px;">$</div>
<div class="t r bd" style="right:121.8px;top:813.51px;">1,294,500</div>
<div class="t bd" style="left:882.6px;top:813.51px;">$</div>
<div class="t r bd" style="right:42.0px;top:813.51px;">1,315,467</div>
<div class="t  lbl" style="left:57.7px;top:833.21px;">Program Projects</div>
<div class="t  lbl" style="left:57.7px;top:844.11px;">Due to/Due from Transfers</div>
<div class="t  lbl" style="left:57.7px;top:854.91px;">OPED Deffered Outflows</div>
<div class="t  lbl" style="left:57.7px;top:865.81px;">Transfer from Depreciation Reserve</div>
<div class="t " style="left:297.9px;top:865.81px;">$</div>
<div class="t r " style="right:626.3px;top:865.81px;">1,451,484</div>
<div class="t " style="left:378.2px;top:865.81px;">$</div>
<div class="t r " style="right:544.4px;top:865.81px;">710,097</div>
<div class="t  lbl" style="left:57.7px;top:876.81px;">Sale of Assets</div>
<div class="t " style="left:216.8px;top:876.81px;">$</div>
<div class="t r " style="right:707.1px;top:876.81px;">242,581</div>
<div class="t bd lbl" style="left:52.1px;top:887.51px;">Net Change in Fund Balances</div>
<div class="t bd" style="left:216.8px;top:887.51px;">$</div>
<div class="t r bd" style="right:703.9px;top:887.51px;">(263,996)</div>
<div class="t bd" style="left:297.9px;top:887.51px;">$</div>
<div class="t r bd" style="right:626.3px;top:887.51px;">-</div>
<div class="t bd" style="left:378.2px;top:887.51px;">$</div>
<div class="t r bd" style="right:544.4px;top:887.51px;">710,097</div>
<div class="t r bd" style="right:453.7px;top:887.51px;">30,014</div>
<div class="t r bd" style="right:372.6px;top:887.51px;">307,937</div>
<div class="t r bd" style="right:288.8px;top:887.51px;">(0)</div>
<div class="t r bd" style="right:202.1px;top:887.51px;">33,195</div>
<div class="t bd" style="left:802.9px;top:887.51px;">$</div>
<div class="t r bd" style="right:118.6px;top:887.51px;">(493,500)</div>
<div class="t bd" style="left:882.6px;top:887.51px;">$</div>
<div class="t r bd" style="right:38.8px;top:887.51px;">(93,032)</div>
<div class="t bd lbl" style="left:52.1px;top:898.21px;">Fund Balance</div>
<div class="t bd" style="left:216.8px;top:898.21px;">$</div>
<div class="t r bd" style="right:707.1px;top:898.21px;">14,713,508</div>
<div class="t r bd" style="right:626.3px;top:898.21px;">14,713,508</div>
<div class="t bd" style="left:378.2px;top:898.21px;">$</div>
<div class="t r bd" style="right:544.4px;top:898.21px;">14,003,411</div>
<div class="t r bd" style="right:453.7px;top:898.21px;">592,568</div>
<div class="t r bd" style="right:372.6px;top:898.21px;">900,505</div>
<div class="t r bd" style="right:288.8px;top:898.21px;">(0)</div>
<div class="t r bd" style="right:202.1px;top:898.21px;">804,388</div>
<div class="t r bd" style="right:121.8px;top:898.21px;">310,888</div>
<div class="t r bd" style="right:42.0px;top:898.21px;">711,356</div>
<div class="t bd" style="left:802.9px;top:833.51px;">$</div>
<div class="t r bd" style="right:121.8px;top:833.51px;">385,000</div>
<div class="b" style="left:46.0px;top:543.00px;width:410.0px;height:4.00px;background:#111"></div>
<div class="b" style="left:464.0px;top:543.00px;width:244.0px;height:4.00px;background:#111"></div>
<div class="b" style="left:716.0px;top:543.00px;width:242.0px;height:4.00px;background:#111"></div>
<div class="b" style="left:46.0px;top:616.00px;width:410.0px;height:1.00px;background:#111"></div>
<div class="b" style="left:464.0px;top:616.00px;width:244.0px;height:1.00px;background:#111"></div>
<div class="b" style="left:716.0px;top:616.00px;width:242.0px;height:1.00px;background:#111"></div>
<div class="b" style="left:46.0px;top:627.00px;width:410.0px;height:1.00px;background:#111"></div>
<div class="b" style="left:464.0px;top:627.00px;width:244.0px;height:1.00px;background:#111"></div>
<div class="b" style="left:716.0px;top:627.00px;width:242.0px;height:1.00px;background:#111"></div>
<div class="b" style="left:46.0px;top:764.00px;width:410.0px;height:1.00px;background:#111"></div>
<div class="b" style="left:464.0px;top:764.00px;width:244.0px;height:1.00px;background:#111"></div>
<div class="b" style="left:716.0px;top:764.00px;width:242.0px;height:1.00px;background:#111"></div>
<div class="b" style="left:46.0px;top:775.00px;width:410.0px;height:1.00px;background:#111"></div>
<div class="b" style="left:464.0px;top:775.00px;width:244.0px;height:1.00px;background:#111"></div>
<div class="b" style="left:716.0px;top:775.00px;width:242.0px;height:1.00px;background:#111"></div>
<div class="b" style="left:46.0px;top:823.00px;width:410.0px;height:3.00px;background:#111"></div>
<div class="b" style="left:464.0px;top:823.00px;width:244.0px;height:3.00px;background:#111"></div>
<div class="b" style="left:716.0px;top:823.00px;width:242.0px;height:3.00px;background:#111"></div>
<div class="b" style="left:46.0px;top:887.00px;width:410.0px;height:1.00px;background:#111"></div>
<div class="b" style="left:464.0px;top:887.00px;width:244.0px;height:1.00px;background:#111"></div>
<div class="b" style="left:716.0px;top:887.00px;width:242.0px;height:1.00px;background:#111"></div>
<div class="b" style="left:46.0px;top:898.00px;width:410.0px;height:1.00px;background:#111"></div>
<div class="b" style="left:464.0px;top:898.00px;width:244.0px;height:1.00px;background:#111"></div>
<div class="b" style="left:716.0px;top:898.00px;width:242.0px;height:1.00px;background:#111"></div>
<div class="b" style="left:49.0px;top:912.00px;width:909.0px;height:33.00px;background:#a6a6a6"></div>
<div class="b" style="left:49.0px;top:912.00px;width:909.0px;height:1.50px;background:#111"></div>
<div class="b" style="left:49.0px;top:944.00px;width:909.0px;height:1.50px;background:#111"></div>
<div class="b" style="left:49.0px;top:912.00px;width:1.5px;height:33.50px;background:#111"></div>
<div class="b" style="left:956.5px;top:912.00px;width:1.5px;height:33.50px;background:#111"></div>
<div class="t c bd" style="left:404.0px;width:200px;top:912.91px;letter-spacing:-0.1px">2025-2026 PRELIMINARY MAY BUDGET</div>
<div class="t c bd" style="left:404.0px;width:200px;top:923.31px;letter-spacing:-0.26px">LINCOLN COUNTY SCHOOL DISTRICT NO. 2</div>
<div class="t c bd" style="left:404.0px;width:200px;top:933.51px;letter-spacing:-0.1px">AFTON, WYOMING</div>
<div class="b" style="left:211.0px;top:955.00px;width:245.0px;height:11.00px;background:#a6a6a6"></div>
<div class="b" style="left:211.0px;top:966.00px;width:245.0px;height:1.00px;background:#111"></div>
<div class="t c bd" style="left:233.5px;width:200px;top:956.01px;">Captial Improvementst Fund</div>
<div class="b" style="left:211.0px;top:988.00px;width:245.0px;height:3.00px;background:#1a1a1a"></div>
<div class="b" style="left:464.0px;top:955.00px;width:244.0px;height:11.00px;background:#a6a6a6"></div>
<div class="b" style="left:464.0px;top:966.00px;width:244.0px;height:1.00px;background:#111"></div>
<div class="t c bd" style="left:486.0px;width:200px;top:956.01px;">Major Maintenance</div>
<div class="b" style="left:464.0px;top:988.00px;width:244.0px;height:3.00px;background:#1a1a1a"></div>
<div class="b" style="left:716.0px;top:955.00px;width:242.0px;height:11.00px;background:#a6a6a6"></div>
<div class="b" style="left:716.0px;top:966.00px;width:242.0px;height:1.00px;background:#111"></div>
<div class="t c bd" style="left:737.0px;width:200px;top:956.01px;">School Activities Funds</div>
<div class="b" style="left:716.0px;top:988.00px;width:242.0px;height:3.00px;background:#1a1a1a"></div>
<div class="t c bd" style="left:152.5px;width:200px;top:966.71px;letter-spacing:-0.19px">Audited  Accrual</div>
<div class="t c bd" style="left:152.5px;width:200px;top:977.51px;">2023-2024</div>
<div class="t c bd" style="left:233.6px;width:200px;top:966.71px;">2024-2025</div>
<div class="t c bd" style="left:233.6px;width:200px;top:977.51px;">Amended</div>
<div class="t c bd" style="left:313.9px;width:200px;top:966.71px;">2025-2026</div>
<div class="t c bd" style="left:313.9px;width:200px;top:977.51px;">Preliminary</div>
<div class="t c bd" style="left:406.2px;width:200px;top:966.71px;letter-spacing:-0.19px">Audited  Accrual</div>
<div class="t c bd" style="left:406.2px;width:200px;top:977.51px;">2023-2024</div>
<div class="t c bd" style="left:487.2px;width:200px;top:966.71px;">2024-2025</div>
<div class="t c bd" style="left:487.2px;width:200px;top:977.51px;">Amended</div>
<div class="t c bd" style="left:567.8px;width:200px;top:966.71px;">2025-2026</div>
<div class="t c bd" style="left:567.8px;width:200px;top:977.51px;">Preliminary</div>
<div class="t c bd" style="left:658.8px;width:200px;top:966.71px;letter-spacing:-0.19px">Audited  Accrual</div>
<div class="t c bd" style="left:658.8px;width:200px;top:977.51px;">2023-2024</div>
<div class="t c bd" style="left:738.6px;width:200px;top:966.71px;">2024-2025</div>
<div class="t c bd" style="left:738.6px;width:200px;top:977.51px;">Adopted</div>
<div class="t c bd" style="left:818.3px;width:200px;top:966.71px;">2025-2026</div>
<div class="t c bd" style="left:818.3px;width:200px;top:977.51px;">Preliminary</div>
<div class="t bd lbl" style="left:52.1px;top:990.21px;">Beginning Fund Balance</div>
<div class="t bd" style="left:216.8px;top:990.21px;">$</div>
<div class="t r bd" style="right:707.1px;top:990.21px;">195,197</div>
<div class="t bd" style="left:297.9px;top:990.21px;">$</div>
<div class="t r bd" style="right:626.3px;top:990.21px;">552,810</div>
<div class="t bd" style="left:378.2px;top:990.21px;">$</div>
<div class="t r bd" style="right:544.4px;top:990.21px;">552,810</div>
<div class="t bd" style="left:470.5px;top:990.21px;">$</div>
<div class="t r bd" style="right:453.7px;top:990.21px;">3,244,743</div>
<div class="t bd" style="left:551.5px;top:990.21px;">$</div>
<div class="t r bd" style="right:372.6px;top:990.21px;">3,838,959</div>
<div class="t bd" style="left:632.1px;top:990.21px;">$</div>
<div class="t r bd" style="right:292.0px;top:990.21px;">3,115,959</div>
<div class="t bd" style="left:723.1px;top:990.21px;">$</div>
<div class="t r bd" style="right:202.1px;top:990.21px;">526,806</div>
<div class="t bd" style="left:802.9px;top:990.21px;">$</div>
<div class="t r bd" style="right:121.8px;top:990.21px;">584,761</div>
<div class="t bd" style="left:882.6px;top:990.21px;">$</div>
<div class="t r bd" style="right:42.0px;top:990.21px;">583,482</div>
<div class="t  lbl" style="left:52.1px;top:1006.41px;">Property Taxes</div>
<div class="t  lbl" style="left:57.7px;top:1017.31px;">Taxes</div>
<div class="t  lbl" style="left:52.1px;top:1028.31px;">Interest and Investment eamings</div>
<div class="t " style="left:216.8px;top:1028.31px;">$</div>
<div class="t r " style="right:707.1px;top:1028.31px;">1,583</div>
<div class="t " style="left:378.2px;top:1028.31px;">$</div>
<div class="t r " style="right:544.4px;top:1028.31px;">1,300</div>
<div class="t " style="left:470.5px;top:1028.31px;">$</div>
<div class="t r " style="right:453.7px;top:1028.31px;">51,545</div>
<div class="t " style="left:551.5px;top:1028.31px;">$</div>
<div class="t r " style="right:372.6px;top:1028.31px;">20,000</div>
<div class="t " style="left:632.1px;top:1028.31px;">$</div>
<div class="t r " style="right:292.0px;top:1028.31px;">14,500</div>
<div class="t  lbl" style="left:52.1px;top:1039.21px;">Sources</div>
<div class="t  lbl" style="left:57.7px;top:1050.11px;">Local Sources</div>
<div class="t " style="left:297.9px;top:1050.11px;">$</div>
<div class="t r " style="right:626.3px;top:1050.11px;">1,850,000</div>
<div class="t " style="left:723.1px;top:1050.11px;">$</div>
<div class="t r " style="right:202.1px;top:1050.11px;">794,324</div>
<div class="t " style="left:802.9px;top:1050.11px;">$</div>
<div class="t r " style="right:121.8px;top:1050.11px;">876,580</div>
<div class="t " style="left:882.6px;top:1050.11px;">$</div>
<div class="t r " style="right:42.0px;top:1050.11px;">958,523</div>
<div class="t  lbl" style="left:57.7px;top:1061.01px;">County Sources</div>
<div class="t  lbl" style="left:57.7px;top:1071.91px;">State Sources</div>
<div class="t " style="left:216.8px;top:1071.91px;">$</div>
<div class="t r " style="right:707.1px;top:1071.91px;">3,158,100</div>
<div class="t " style="left:297.9px;top:1071.91px;">$</div>
<div class="t r " style="right:626.3px;top:1071.91px;">450,000</div>
<div class="t " style="left:378.2px;top:1071.91px;">$</div>
<div class="t r " style="right:544.4px;top:1071.91px;">150,000</div>
<div class="t " style="left:470.5px;top:1071.91px;">$</div>
<div class="t r " style="right:453.7px;top:1071.91px;">2,631,735</div>
<div class="t " style="left:551.5px;top:1071.91px;">$</div>
<div class="t r " style="right:372.6px;top:1071.91px;">2,286,000</div>
<div class="t " style="left:632.1px;top:1071.91px;">$</div>
<div class="t r " style="right:292.0px;top:1071.91px;">2,650,000</div>
<div class="t  lbl" style="left:57.7px;top:1082.71px;">Federal Sources</div>
<div class="t  lbl" style="left:57.7px;top:1093.61px;">Other Sources</div>
<div class="t bd lbl" style="left:52.1px;top:1106.91px;">Estimated Total Revenues</div>
<div class="t bd" style="left:216.8px;top:1106.91px;">$</div>
<div class="t r bd" style="right:707.1px;top:1106.91px;">3,354,880</div>
<div class="t bd" style="left:297.9px;top:1106.91px;">$</div>
<div class="t r bd" style="right:626.3px;top:1106.91px;">2,424,022</div>
<div class="t bd" style="left:378.2px;top:1106.91px;">$</div>
<div class="t r bd" style="right:544.4px;top:1106.91px;">704,110</div>
<div class="t bd" style="left:470.5px;top:1106.91px;">$</div>
<div class="t r bd" style="right:453.7px;top:1106.91px;">2,683,280</div>
<div class="t bd" style="left:551.5px;top:1106.91px;">$</div>
<div class="t r bd" style="right:372.6px;top:1106.91px;">2,306,000</div>
<div class="t bd" style="left:632.1px;top:1106.91px;">$</div>
<div class="t r bd" style="right:292.0px;top:1106.91px;">2,664,500</div>
<div class="t bd" style="left:723.1px;top:1106.91px;">$</div>
<div class="t r bd" style="right:202.1px;top:1106.91px;">794,324</div>
<div class="t bd" style="left:802.9px;top:1106.91px;">$</div>
<div class="t r bd" style="right:121.8px;top:1106.91px;">876,580</div>
<div class="t bd" style="left:882.6px;top:1106.91px;">$</div>
<div class="t r bd" style="right:42.0px;top:1106.91px;">958,523</div>
<div class="t bd lbl" style="left:52.1px;top:1123.01px;">Instruction:</div>
<div class="t  lbl" style="left:57.7px;top:1133.91px;">Regular Instruction</div>
<div class="t  lbl" style="left:57.7px;top:1144.81px;">Special Instruction</div>
<div class="t  lbl" style="left:57.7px;top:1155.71px;">Vocational Instruction</div>
<div class="t  lbl" style="left:57.7px;top:1166.61px;">Other Instruction</div>
<div class="t bi lbl" style="left:67.2px;top:1177.51px;">Total Instruction</div>
<div class="t bi" style="left:216.8px;top:1177.51px;">$</div>
<div class="t r bi" style="right:707.1px;top:1177.51px;">-</div>
<div class="t bi" style="left:297.9px;top:1177.51px;">$</div>
<div class="t r bi" style="right:637.3px;top:1177.51px;">-</div>
<div class="t bi" style="left:378.2px;top:1177.51px;">$</div>
<div class="t r bi" style="right:544.4px;top:1177.51px;">-</div>
<div class="t bi" style="left:470.5px;top:1177.51px;">$</div>
<div class="t r bi" style="right:453.7px;top:1177.51px;">-</div>
<div class="t bi" style="left:551.5px;top:1177.51px;">$</div>
<div class="t r bi" style="right:372.6px;top:1177.51px;">-</div>
<div class="t bi" style="left:632.1px;top:1177.51px;">$</div>
<div class="t r bi" style="right:292.0px;top:1177.51px;">-</div>
<div class="t bi" style="left:723.1px;top:1177.51px;">$</div>
<div class="t r bi" style="right:202.1px;top:1177.51px;">-</div>
<div class="t bi" style="left:802.9px;top:1177.51px;">$</div>
<div class="t r bi" style="right:121.8px;top:1177.51px;">-</div>
<div class="t bi" style="left:882.6px;top:1177.51px;">$</div>
<div class="t r bi" style="right:42.0px;top:1177.51px;">-</div>
<div class="t bd lbl" style="left:52.1px;top:1194.41px;">Support Services:</div>
<div class="t  lbl" style="left:57.7px;top:1205.21px;">Pupil Services</div>
<div class="t " style="left:723.1px;top:1205.21px;">$</div>
<div class="t r " style="right:202.1px;top:1205.21px;">767,286</div>
<div class="t " style="left:802.9px;top:1205.21px;">$</div>
<div class="t r " style="right:121.8px;top:1205.21px;">876,580</div>
<div class="t " style="left:882.6px;top:1205.21px;">$</div>
<div class="t r " style="right:42.0px;top:1205.21px;">958,523</div>
<div class="t  lbl" style="left:57.7px;top:1216.11px;">Instructional Staff Services</div>
<div class="t  lbl" style="left:57.7px;top:1226.91px;">General Administration Services</div>
<div class="t  lbl" style="left:57.7px;top:1237.81px;">School Administration Services</div>
<div class="t  lbl" style="left:57.7px;top:1248.71px;">Business Services</div>
<div class="t  lbl" style="left:57.7px;top:1259.51px;">Operation &amp; Maintenance</div>
<div class="t " style="left:470.5px;top:1259.51px;">$</div>
<div class="t r " style="right:453.7px;top:1259.51px;">2,509,031</div>
<div class="t " style="left:551.5px;top:1259.51px;">$</div>
<div class="t r " style="right:372.6px;top:1259.51px;">3,029,000</div>
<div class="t " style="left:632.1px;top:1259.51px;">$</div>
<div class="t r " style="right:292.0px;top:1259.51px;">2,664,500</div>
<div class="t  lbl" style="left:57.7px;top:1270.31px;">Pupil Transportation Service</div>
<div class="t  lbl" style="left:57.7px;top:1281.11px;">Central Services</div>
<div class="t  lbl" style="left:57.7px;top:1292.01px;">Capital Construction</div>
<div class="t " style="left:216.8px;top:1292.01px;">$</div>
<div class="t r " style="right:707.1px;top:1292.01px;">2,964,486</div>
<div class="t " style="left:297.9px;top:1292.01px;">$</div>
<div class="t r " style="right:626.3px;top:1292.01px;">2,424,022</div>
<div class="t " style="left:378.2px;top:1292.01px;">$</div>
<div class="t r " style="right:544.4px;top:1292.01px;">1,500,000</div>
<div class="t  lbl" style="left:57.7px;top:1302.91px;">Community Support</div>
<div class="t  lbl" style="left:57.7px;top:1313.81px;">Other Support Services</div>
<div class="t bi lbl" style="left:67.2px;top:1324.51px;">Total Support Services</div>
<div class="t bi" style="left:216.8px;top:1324.51px;">$</div>
<div class="t r bi" style="right:707.1px;top:1324.51px;">2,964,486</div>
<div class="t bi" style="left:297.9px;top:1324.51px;">$</div>
<div class="t r bi" style="right:626.3px;top:1324.51px;">2,424,022</div>
<div class="t bi" style="left:378.2px;top:1324.51px;">$</div>
<div class="t r bi" style="right:544.4px;top:1324.51px;">1,500,000</div>
<div class="t bi" style="left:470.5px;top:1324.51px;">$</div>
<div class="t r bi" style="right:453.7px;top:1324.51px;">2,509,031</div>
<div class="t bi" style="left:551.5px;top:1324.51px;">$</div>
<div class="t r bi" style="right:372.6px;top:1324.51px;">3,029,000</div>
<div class="t bi" style="left:632.1px;top:1324.51px;">$</div>
<div class="t r bi" style="right:292.0px;top:1324.51px;">2,664,500</div>
<div class="t bi" style="left:723.1px;top:1324.51px;">$</div>
<div class="t r bi" style="right:202.1px;top:1324.51px;">767,286</div>
<div class="t bi" style="left:802.9px;top:1324.51px;">$</div>
<div class="t r bi" style="right:121.8px;top:1324.51px;">876,580</div>
<div class="t bi" style="left:882.6px;top:1324.51px;">$</div>
<div class="t r bi" style="right:42.0px;top:1324.51px;">958,523</div>
<div class="t bd lbl" style="left:52.1px;top:1340.81px;">Business-type Activities</div>
<div class="t  lbl" style="left:57.7px;top:1351.81px;">Food Service</div>
<div class="t bd lbl" style="left:69.8px;top:1362.71px;">Total Business-type Activities</div>
<div class="t bd lbl" style="left:52.1px;top:1384.51px;">Estimated Total Expenditures</div>
<div class="t bd" style="left:216.8px;top:1384.51px;">$</div>
<div class="t r bd" style="right:707.1px;top:1384.51px;">2,964,486</div>
<div class="t bd" style="left:297.9px;top:1384.51px;">$</div>
<div class="t r bd" style="right:626.3px;top:1384.51px;">2,424,022</div>
<div class="t bd" style="left:378.2px;top:1384.51px;">$</div>
<div class="t r bd" style="right:544.4px;top:1384.51px;">2,204,110</div>
<div class="t bd" style="left:470.5px;top:1384.51px;">$</div>
<div class="t r bd" style="right:453.7px;top:1384.51px;">2,509,031</div>
<div class="t bd" style="left:551.5px;top:1384.51px;">$</div>
<div class="t r bd" style="right:372.6px;top:1384.51px;">3,029,000</div>
<div class="t bd" style="left:632.1px;top:1384.51px;">$</div>
<div class="t r bd" style="right:292.0px;top:1384.51px;">2,664,500</div>
<div class="t bd" style="left:723.1px;top:1384.51px;">$</div>
<div class="t r bd" style="right:202.1px;top:1384.51px;">767,286</div>
<div class="t bd" style="left:802.9px;top:1384.51px;">$</div>
<div class="t r bd" style="right:121.8px;top:1384.51px;">876,580</div>
<div class="t bd" style="left:882.6px;top:1384.51px;">$</div>
<div class="t r bd" style="right:42.0px;top:1384.51px;">958,523</div>
<div class="t  lbl" style="left:57.7px;top:1408.51px;">Due to/Due from Transfers</div>
<div class="t " style="left:216.8px;top:1408.51px;">$</div>
<div class="t r " style="right:703.9px;top:1408.51px;">(390,394)</div>
<div class="t " style="left:378.2px;top:1408.51px;">$</div>
<div class="t r " style="right:544.4px;top:1408.51px;">1,500,000</div>
<div class="t " style="left:470.5px;top:1408.51px;">$</div>
<div class="t r " style="right:453.7px;top:1408.51px;">-</div>
<div class="t " style="left:551.5px;top:1408.51px;">$</div>
<div class="t r " style="right:372.6px;top:1408.51px;">-</div>
<div class="t " style="left:632.1px;top:1408.51px;">$</div>
<div class="t r " style="right:292.0px;top:1408.51px;">-</div>
<div class="t " style="left:723.1px;top:1408.51px;">$</div>
<div class="t r " style="right:202.1px;top:1408.51px;">-</div>
<div class="t " style="left:802.9px;top:1408.51px;">$</div>
<div class="t r " style="right:121.8px;top:1408.51px;">-</div>
<div class="t " style="left:882.6px;top:1408.51px;">$</div>
<div class="t r " style="right:42.0px;top:1408.51px;">-</div>
<div class="t bd lbl" style="left:52.1px;top:1430.01px;">Net Change in Fund Balances</div>
<div class="t bd" style="left:216.8px;top:1430.01px;">$</div>
<div class="t r bd" style="right:707.1px;top:1430.01px;">-</div>
<div class="t bd" style="left:297.9px;top:1430.01px;">$</div>
<div class="t r bd" style="right:637.3px;top:1430.01px;">-</div>
<div class="t r bd" style="right:555.4px;top:1430.01px;">-</div>
<div class="t r bd" style="right:453.7px;top:1430.01px;">174,249</div>
<div class="t r bd" style="right:369.4px;top:1430.01px;">(723,000)</div>
<div class="t r bd" style="right:303.0px;top:1430.01px;">-</div>
<div class="t r bd" style="right:202.1px;top:1430.01px;">27,038</div>
<div class="t r bd" style="right:132.8px;top:1430.01px;">-</div>
<div class="t r bd" style="right:53.0px;top:1430.01px;">-</div>
<div class="t bd lbl" style="left:52.1px;top:1441.11px;">Fund Balance</div>
<div class="t bd" style="left:216.8px;top:1441.11px;">$</div>
<div class="t r bd" style="right:707.1px;top:1441.11px;">-</div>
<div class="t bd" style="left:297.9px;top:1441.11px;">$</div>
<div class="t r bd" style="right:637.3px;top:1441.11px;">-</div>
<div class="t r bd" style="right:555.4px;top:1441.11px;">-</div>
<div class="t r bd" style="right:453.7px;top:1441.11px;">3,418,992</div>
<div class="t r bd" style="right:372.6px;top:1441.11px;">3,115,959</div>
<div class="t r bd" style="right:292.0px;top:1441.11px;">3,128,492</div>
<div class="t r bd" style="right:202.1px;top:1441.11px;">553,844</div>
<div class="t r bd" style="right:121.8px;top:1441.11px;">584,761</div>
<div class="t r bd" style="right:42.0px;top:1441.11px;">583,482</div>
<div class="b" style="left:46.0px;top:1104.00px;width:410.0px;height:3.00px;background:#111"></div>
<div class="b" style="left:464.0px;top:1104.00px;width:244.0px;height:3.00px;background:#111"></div>
<div class="b" style="left:716.0px;top:1104.00px;width:242.0px;height:3.00px;background:#111"></div>
<div class="b" style="left:46.0px;top:1177.00px;width:410.0px;height:1.00px;background:#111"></div>
<div class="b" style="left:464.0px;top:1177.00px;width:244.0px;height:1.00px;background:#111"></div>
<div class="b" style="left:716.0px;top:1177.00px;width:242.0px;height:1.00px;background:#111"></div>
<div class="b" style="left:46.0px;top:1188.00px;width:410.0px;height:1.00px;background:#111"></div>
<div class="b" style="left:464.0px;top:1188.00px;width:244.0px;height:1.00px;background:#111"></div>
<div class="b" style="left:716.0px;top:1188.00px;width:242.0px;height:1.00px;background:#111"></div>
<div class="b" style="left:46.0px;top:1324.00px;width:410.0px;height:1.00px;background:#111"></div>
<div class="b" style="left:464.0px;top:1324.00px;width:244.0px;height:1.00px;background:#111"></div>
<div class="b" style="left:716.0px;top:1324.00px;width:242.0px;height:1.00px;background:#111"></div>
<div class="b" style="left:46.0px;top:1335.00px;width:410.0px;height:1.00px;background:#111"></div>
<div class="b" style="left:464.0px;top:1335.00px;width:244.0px;height:1.00px;background:#111"></div>
<div class="b" style="left:716.0px;top:1335.00px;width:242.0px;height:1.00px;background:#111"></div>
<div class="b" style="left:46.0px;top:1362.00px;width:410.0px;height:1.00px;background:#111"></div>
<div class="b" style="left:464.0px;top:1362.00px;width:244.0px;height:1.00px;background:#111"></div>
<div class="b" style="left:716.0px;top:1362.00px;width:242.0px;height:1.00px;background:#111"></div>
<div class="b" style="left:46.0px;top:1373.00px;width:410.0px;height:1.00px;background:#111"></div>
<div class="b" style="left:464.0px;top:1373.00px;width:244.0px;height:1.00px;background:#111"></div>
<div class="b" style="left:716.0px;top:1373.00px;width:242.0px;height:1.00px;background:#111"></div>
<div class="b" style="left:46.0px;top:1395.00px;width:410.0px;height:3.00px;background:#111"></div>
<div class="b" style="left:464.0px;top:1395.00px;width:244.0px;height:3.00px;background:#111"></div>
<div class="b" style="left:716.0px;top:1395.00px;width:242.0px;height:3.00px;background:#111"></div>
<div class="b" style="left:46.0px;top:1430.00px;width:410.0px;height:1.00px;background:#111"></div>
<div class="b" style="left:464.0px;top:1430.00px;width:244.0px;height:1.00px;background:#111"></div>
<div class="b" style="left:716.0px;top:1430.00px;width:242.0px;height:1.00px;background:#111"></div>
<div class="b" style="left:46.0px;top:1440.00px;width:410.0px;height:1.00px;background:#111"></div>
<div class="b" style="left:464.0px;top:1440.00px;width:244.0px;height:1.00px;background:#111"></div>
<div class="b" style="left:716.0px;top:1440.00px;width:242.0px;height:1.00px;background:#111"></div>
<div class="bt br" style="left:786px;top:1453.8px;width:189.42px;font-size:13.2px;color:#222">Publish July 2 &amp; 9, 2025</div>
</body></html>
